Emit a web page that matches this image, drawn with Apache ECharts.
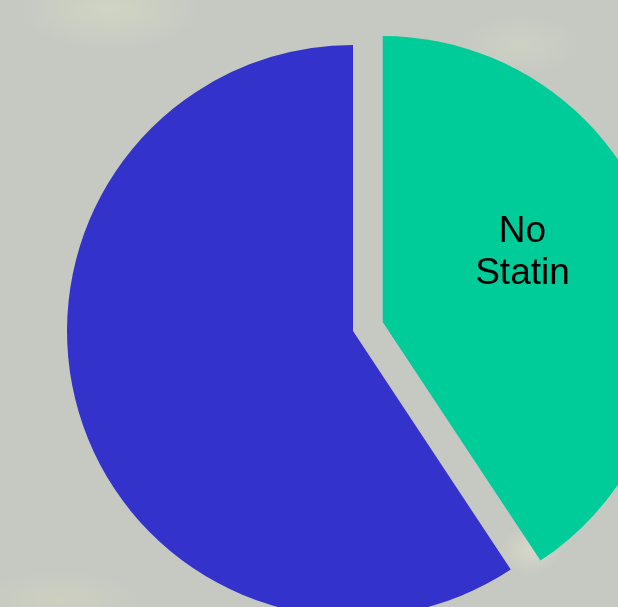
<!DOCTYPE html>
<html>
<head>
<meta charset="utf-8">
<script src="https://cdn.jsdelivr.net/npm/echarts@6/dist/echarts.min.js"></script>
<style>
  html, body { margin: 0; padding: 0; }
  body {
    width: 618px; height: 607px; overflow: hidden;
    background:
      radial-gradient(ellipse 90px 40px at 110px 10px, rgba(215,220,195,0.6), rgba(215,220,195,0) 100%),
      radial-gradient(ellipse 60px 30px at 520px 45px, rgba(212,216,196,0.5), rgba(212,216,196,0) 100%),
      radial-gradient(ellipse 80px 30px at 60px 600px, rgba(210,212,190,0.6), rgba(210,212,190,0) 100%),
      radial-gradient(ellipse 30px 25px at 530px 550px, rgba(225,225,205,0.6), rgba(225,225,205,0) 100%),
      #c6c9c2;
  }
  #chart { width: 618px; height: 607px; }
</style>
</head>
<body>
<div id="chart"></div>
<script>
  var categories = ['No Statin', 'Statin'];
  var values = [40.7, 59.3];
  var colors = ['#00CC99', '#3333CC'];
  var showLabel = [true, false];

  var chart = echarts.init(document.getElementById('chart'), null, { renderer: 'canvas' });
  var data = categories.map(function (name, i) {
    return {
      name: name,
      value: values[i],
      selected: i === 0,
      itemStyle: { color: colors[i] },
      select: { itemStyle: { color: colors[i] } },
      label: { show: showLabel[i] }
    };
  });

  chart.setOption({
    backgroundColor: 'transparent',
    animation: false,
    series: [{
      type: 'pie',
      center: [353, 331],
      radius: [0, 286],
      startAngle: 90,
      clockwise: true,
      selectedMode: 'single',
      selectedOffset: 31,
      avoidLabelOverlap: false,
      emphasis: { disabled: true },
      itemStyle: { borderWidth: 0 },
      label: {
        position: 'inside',
        color: '#000000',
        fontFamily: 'Liberation Sans, Arial, sans-serif',
        fontSize: 37,
        lineHeight: 42,
        align: 'center',
        rich: {
          t: {
            color: '#000000',
            fontFamily: 'Liberation Sans, Arial, sans-serif',
            fontSize: 37,
            lineHeight: 42
          },
          s: { fontSize: 10, lineHeight: 54 }
        },
        formatter: function (p) {
          return p.name.split(' ').map(function (w) { return '{t|' + w + '}'; }).join('\n') + '\n{s| }';
        }
      },
      labelLine: { show: false },
      data: data
    }]
  });
</script>
</body>
</html>
